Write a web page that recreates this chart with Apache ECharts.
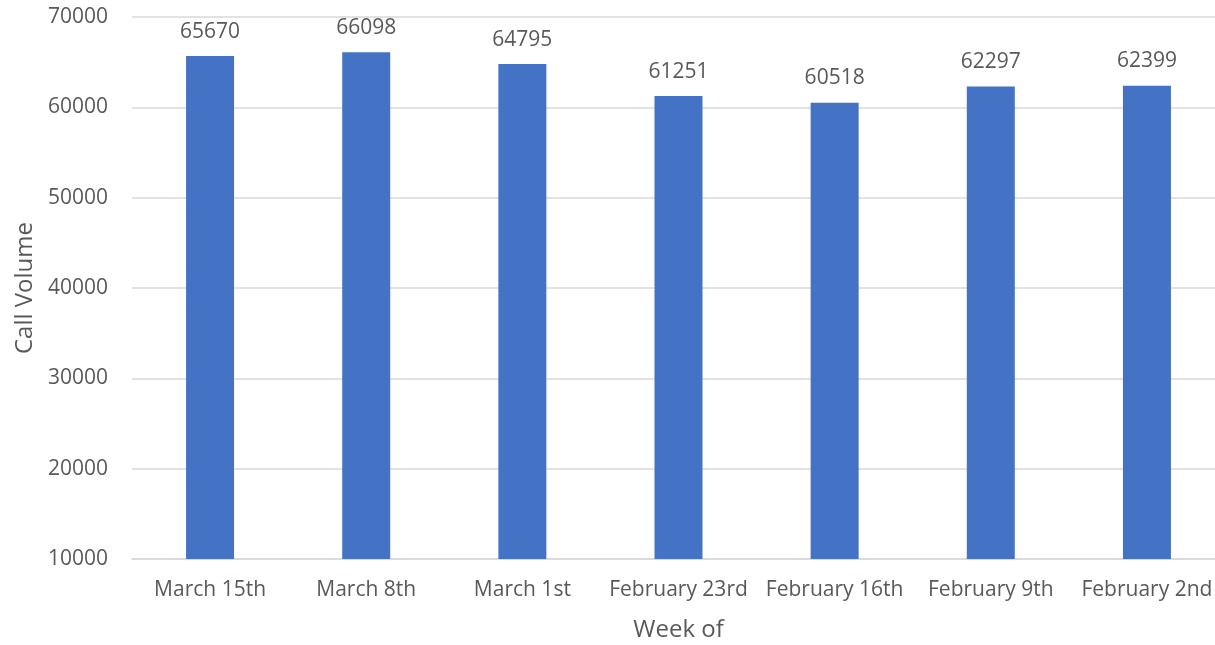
<!DOCTYPE html>
<html><head><meta charset="utf-8">
<script src="https://cdn.jsdelivr.net/npm/echarts@6/dist/echarts.min.js"></script>
<style>html,body{margin:0;padding:0;background:#fff}#c{width:1215px;height:645px}</style>
</head><body><div id="c"></div>
<script>
var categories = ["March 15th","March 8th","March 1st","February 23rd","February 16th","February 9th","February 2nd"];
var callVolume = [65670,66098,64795,61251,60518,62297,62399];
var yMin = 10000, yMax = 70000, yStep = 10000;

var chart = echarts.init(document.getElementById('c'));
var txt = '#595959', ff = '"Open Sans", sans-serif';
chart.setOption({
  animation: false,
  grid: {left: 132, top: 17, width: 1093, height: 542, containLabel: false, outerBoundsMode: 'none'},
  xAxis: {
    type: 'category', data: categories,
    name: 'Week of', nameLocation: 'middle', nameGap: 59,
    nameTextStyle: {color: txt, fontSize: 24, fontFamily: ff},
    axisLine: {show: true, lineStyle: {color: '#D9D9D9', width: 1.5}},
    axisTick: {show: false},
    axisLabel: {color: txt, fontSize: 21, fontFamily: ff, margin: 21, interval: 0}
  },
  yAxis: {
    type: 'value', min: yMin, max: yMax, interval: yStep,
    name: 'Call Volume', nameLocation: 'middle', nameGap: 93,
    nameTextStyle: {color: txt, fontSize: 24, fontFamily: ff},
    axisLine: {show: false}, axisTick: {show: false},
    axisLabel: {color: txt, fontSize: 21, fontFamily: ff, margin: 24, formatter: function (v) { return String(v); }},
    splitLine: {lineStyle: {color: '#D9D9D9', width: 1.5}}
  },
  series: [{
    type: 'bar', data: callVolume, barWidth: 48,
    itemStyle: {color: '#4472C4'},
    label: {show: true, position: 'top', distance: 14, color: txt, fontSize: 21, fontFamily: ff}
  }]
});
</script></body></html>
